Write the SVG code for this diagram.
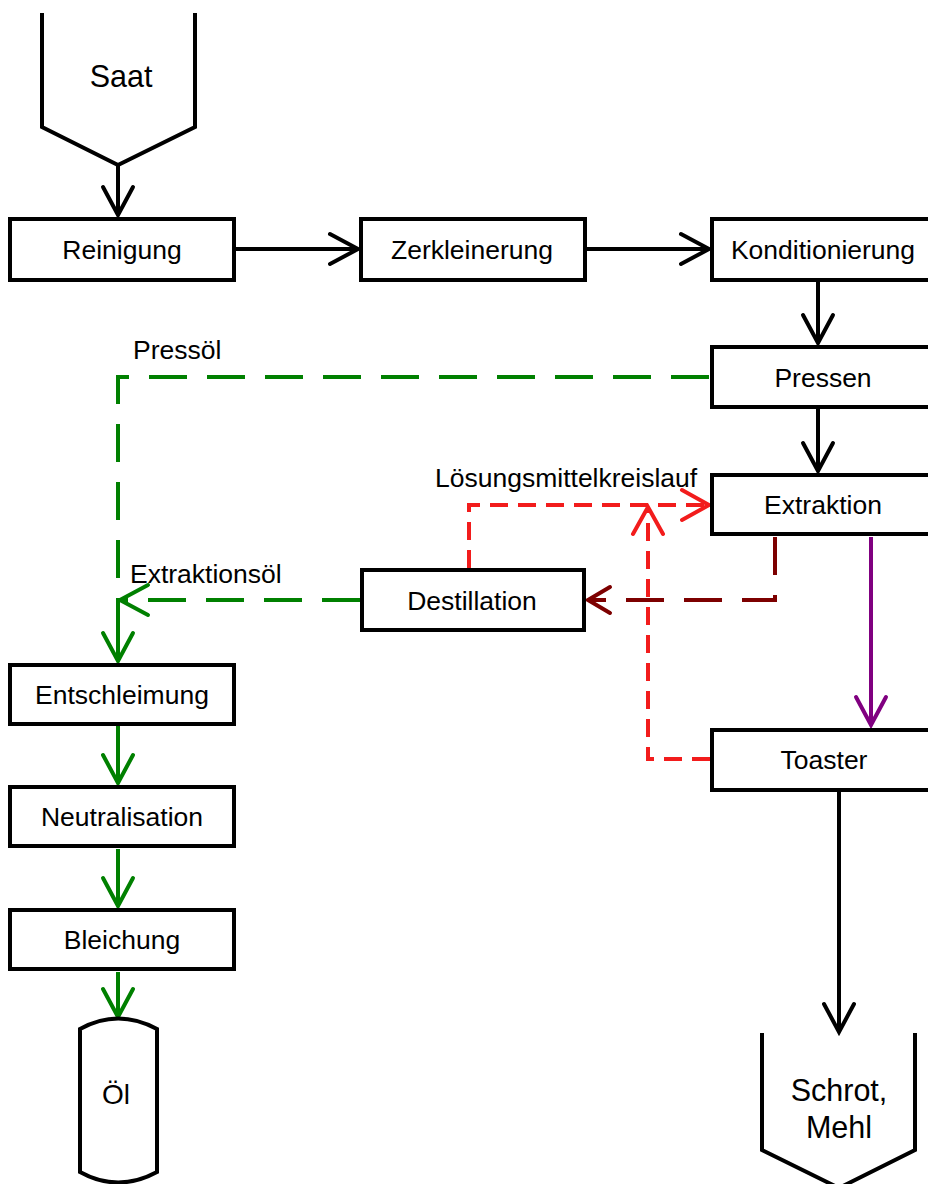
<svg xmlns="http://www.w3.org/2000/svg" width="928" height="1184" viewBox="0 0 928 1184">
<style>
.box{fill:#fff;stroke:#000;stroke-width:4}
.sh{fill:none;stroke:#000;stroke-width:4;stroke-linejoin:miter}
.t{font-family:"Liberation Sans",Arial,sans-serif;font-size:26.5px;fill:#000}
.big{font-size:30.5px}
.ol{font-size:28px}
.c{text-anchor:middle}
.ln{fill:none;stroke-width:4}
.blk{stroke:#000}
.grn{stroke:#008000}
.gd{stroke-dasharray:38 20}
.red{stroke:#f21c1c;stroke-dasharray:18 10}
.dr{stroke:#7d0000;stroke-dasharray:38 20}
.pu{stroke:#800080}
</style>
<defs>
<marker id="mb" markerUnits="userSpaceOnUse" orient="auto" overflow="visible" markerWidth="1" markerHeight="1"><path d="M-28,-15 L0,0 L-28,15" fill="none" stroke="#000" stroke-width="4" stroke-linecap="round"/></marker>
<marker id="mg" markerUnits="userSpaceOnUse" orient="auto" overflow="visible" markerWidth="1" markerHeight="1"><path d="M-28,-15 L0,0 L-28,15" fill="none" stroke="#008000" stroke-width="4" stroke-linecap="round"/></marker>
<marker id="mr" markerUnits="userSpaceOnUse" orient="auto" overflow="visible" markerWidth="1" markerHeight="1"><path d="M-27,-15 L0,0 L-27,15" fill="none" stroke="#f21c1c" stroke-width="4" stroke-linecap="round"/></marker>
<marker id="md" markerUnits="userSpaceOnUse" orient="auto" overflow="visible" markerWidth="1" markerHeight="1"><path d="M-22,-13 L0,0 L-22,13" fill="none" stroke="#7d0000" stroke-width="4" stroke-linecap="round"/></marker>
<marker id="mp" markerUnits="userSpaceOnUse" orient="auto" overflow="visible" markerWidth="1" markerHeight="1"><path d="M-28,-15 L0,0 L-28,15" fill="none" stroke="#800080" stroke-width="4" stroke-linecap="round"/></marker>
</defs>
<rect width="928" height="1184" fill="#fff"/>
<g id="connectors">
<path class="ln blk" d="M118,165 V215" marker-end="url(#mb)"/>
<path class="ln blk" d="M236,249 H358" marker-end="url(#mb)"/>
<path class="ln blk" d="M587,249 H709" marker-end="url(#mb)"/>
<path class="ln blk" d="M818,282 V343" marker-end="url(#mb)"/>
<path class="ln blk" d="M818,409 V471" marker-end="url(#mb)"/>
<path class="ln grn gd" d="M118,600 V377 H710" stroke-dashoffset="36"/>
<path class="ln grn gd" d="M360,600 H120" marker-end="url(#mg)"/>
<path class="ln grn" d="M118,600 V661" marker-end="url(#mg)"/>
<path class="ln grn" d="M118,726 V783" marker-end="url(#mg)"/>
<path class="ln grn" d="M118,849 V906" marker-end="url(#mg)"/>
<path class="ln grn" d="M118,972 V1017" marker-end="url(#mg)"/>
<path class="ln red" d="M469,568 V505 H709" marker-end="url(#mr)"/>
<path class="ln red" d="M710,759 H648 V507" marker-end="url(#mr)"/>
<path class="ln dr" d="M775,537 V600 H588" marker-end="url(#md)"/>
<path class="ln pu" d="M871,537 V725" marker-end="url(#mp)"/>
<path class="ln blk" d="M839,792 V1032" marker-end="url(#mb)"/>
<text class="t" x="133" y="359">Pressöl</text>
<text class="t" x="130" y="583">Extraktionsöl</text>
<text class="t" x="435" y="487">Lösungsmittelkreislauf</text>
</g>
<g id="saat">
<path class="sh" d="M42,13 V127 L118,165 L195,127 V13"/>
<text class="t big c" x="121" y="87">Saat</text>
</g>
<g id="reinigung">
<rect class="box" x="10" y="219" width="224" height="61"/>
<text class="t c" x="122" y="259">Reinigung</text>
</g>
<g id="zerkleinerung">
<rect class="box" x="361" y="219" width="224" height="61"/>
<text class="t c" x="472" y="259">Zerkleinerung</text>
</g>
<g id="konditionierung">
<rect class="box" x="712" y="219" width="224" height="61"/>
<text class="t c" x="823" y="259">Konditionierung</text>
</g>
<g id="pressen">
<rect class="box" x="712" y="347" width="224" height="60"/>
<text class="t c" x="823" y="386.5">Pressen</text>
</g>
<g id="extraktion">
<rect class="box" x="712" y="475" width="224" height="59"/>
<text class="t c" x="823" y="514">Extraktion</text>
</g>
<g id="destillation">
<rect class="box" x="362" y="570" width="222" height="60"/>
<text class="t c" x="472" y="609.5">Destillation</text>
</g>
<g id="toaster">
<rect class="box" x="712" y="730" width="224" height="60"/>
<text class="t c" x="824" y="769">Toaster</text>
</g>
<g id="entschleimung">
<rect class="box" x="10" y="665" width="224" height="59"/>
<text class="t c" x="122" y="704">Entschleimung</text>
</g>
<g id="neutralisation">
<rect class="box" x="10" y="787" width="224" height="59"/>
<text class="t c" x="122" y="826">Neutralisation</text>
</g>
<g id="bleichung">
<rect class="box" x="10" y="910" width="224" height="59"/>
<text class="t c" x="122" y="949">Bleichung</text>
</g>
<g id="oel">
<path class="box" d="M80,1029 Q118,1008 157,1029 V1172 Q118,1193 80,1172 Z"/>
<text class="t ol c" x="116" y="1104">Öl</text>
</g>
<g id="schrot">
<path class="sh" d="M762,1033 V1150 L839,1188 L915,1150 V1033"/>
<text class="t big c" x="839" y="1101">Schrot,</text>
<text class="t big c" x="839" y="1138">Mehl</text>
</g>
</svg>
